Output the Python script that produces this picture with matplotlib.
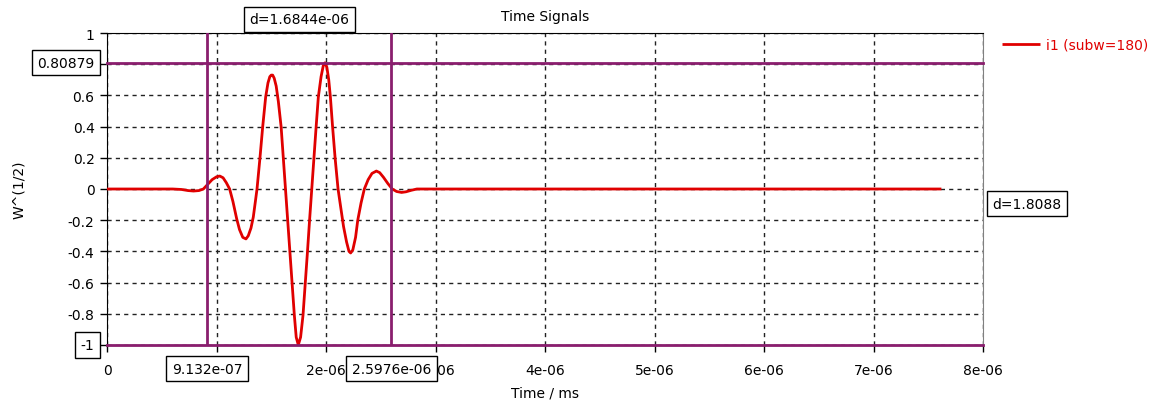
import matplotlib
matplotlib.use('Agg')
import matplotlib.pyplot as plt
import matplotlib.transforms as mtransforms

# ---- data ----
time_us = [0.0, 0.60, 0.68, 0.74, 0.79, 0.84, 0.88, 0.92, 0.96, 1.00, 1.03, 1.06,
           1.09, 1.12, 1.15, 1.184, 1.21, 1.24, 1.269, 1.29, 1.315, 1.336, 1.355,
           1.37, 1.397, 1.422, 1.449, 1.47, 1.487, 1.50, 1.513, 1.527, 1.545, 1.565,
           1.59, 1.61, 1.63, 1.65, 1.671, 1.691, 1.711, 1.728, 1.747, 1.768, 1.79,
           1.81, 1.83, 1.85, 1.87, 1.89, 1.91, 1.93, 1.955, 1.975, 1.991, 2.008,
           2.025, 2.04, 2.06, 2.083, 2.11, 2.135, 2.16, 2.188, 2.21, 2.225, 2.245,
           2.27, 2.29, 2.32, 2.35, 2.385, 2.42, 2.46, 2.49, 2.525, 2.565, 2.605,
           2.645, 2.69, 2.73, 2.78, 2.83, 7.62]
signal = [0.0, 0.0, -0.003, -0.010, -0.013, -0.010, 0.0, 0.030, 0.060, 0.078, 0.083, 0.072,
          0.040, 0.0, -0.08, -0.19, -0.26, -0.31, -0.32, -0.30, -0.25, -0.18, -0.08,
          0.0, 0.20, 0.40, 0.59, 0.68, 0.72, 0.73, 0.73, 0.71, 0.66, 0.56,
          0.40, 0.20, 0.0, -0.20, -0.41, -0.61, -0.81, -0.95, -1.0, -0.95, -0.81,
          -0.61, -0.41, -0.20, 0.0, 0.20, 0.40, 0.59, 0.72, 0.79, 0.809, 0.78,
          0.70, 0.59, 0.40, 0.20, 0.0, -0.12, -0.24, -0.34, -0.40, -0.41, -0.39,
          -0.31, -0.20, -0.09, 0.0, 0.06, 0.10, 0.115, 0.105, 0.075, 0.035, 0.0,
          -0.016, -0.022, -0.018, -0.008, 0.0, 0.0]
series_label = 'i1 (subw=180)'

cursor_x = [9.132e-07, 2.5976e-06]
cursor_x_labels = ['9.132e-07', '2.5976e-06']
cursor_y = [0.80879, -1.0]
cursor_y_labels = ['0.80879', '-1']
delta_x_label = 'd=1.6844e-06'
delta_y_label = 'd=1.8088'

x_ticks = [0, 1e-6, 2e-6, 3e-6, 4e-6, 5e-6, 6e-6, 7e-6, 8e-6]
x_tick_labels = ['0', '1e-06', '2e-06', '3e-06', '4e-06', '5e-06', '6e-06', '7e-06', '8e-06']
y_ticks = [-1, -0.8, -0.6, -0.4, -0.2, 0, 0.2, 0.4, 0.6, 0.8, 1]
y_tick_labels = ['-1', '-0.8', '-0.6', '-0.4', '-0.2', '0', '0.2', '0.4', '0.6', '0.8', '1']

# ---- style ----
plt.rcParams['font.family'] = ['DejaVu Sans']
plt.rcParams['font.size'] = 10
PURPLE = '#8a1e6e'
RED = '#e00000'

fig = plt.figure(figsize=(11.54, 4.06), dpi=100)
ax = fig.add_axes([107 / 1154, 1 - 346 / 406, 876 / 1154, 312 / 406])

t = [v * 1e-6 for v in time_us]
ax.plot(t, signal, color=RED, lw=2, label=series_label, zorder=4,
        solid_joinstyle='round', solid_capstyle='butt')

for cx in cursor_x:
    ax.axvline(cx, color=PURPLE, lw=2, zorder=5)
for cy in cursor_y:
    ax.axhline(cy, color=PURPLE, lw=2, zorder=5, clip_on=False)

ax.set_xlim(0, 8e-6)
ax.set_ylim(-1, 1)
ax.set_xticks(x_ticks)
ax.set_xticklabels(x_tick_labels)
ax.set_yticks(y_ticks)
ax.set_yticklabels(y_tick_labels)
ax.tick_params(direction='out', length=5, width=1, labelsize=10)
ax.tick_params(axis='x', pad=8)
ax.tick_params(axis='y', pad=4)
ax.grid(True, color='#222222', linestyle=(0, (3, 3)), linewidth=1)
ax.set_axisbelow(True)

for side in ['left', 'top', 'bottom']:
    ax.spines[side].set_color('black')
ax.spines['right'].set_color('#808080')

ax.set_title('Time Signals', fontsize=10, pad=9)
ax.set_xlabel('Time / ms', fontsize=10, labelpad=6)
ax.set_ylabel('W^(1/2)', fontsize=10, labelpad=30)

box = dict(boxstyle='square,pad=0.4', fc='white', ec='black', lw=1)

# cursor value boxes on left (y cursors)
ty = mtransforms.blended_transform_factory(ax.transAxes, ax.transData)
for cy, lab in zip(cursor_y, cursor_y_labels):
    ax.annotate(lab, xy=(0, cy), xycoords=ty, xytext=(-9, 0), textcoords='offset points',
                ha='right', va='center', bbox=box, zorder=10, annotation_clip=False)

# cursor value boxes at bottom (x cursors)
tx = mtransforms.blended_transform_factory(ax.transData, ax.transAxes)
for cx, lab in zip(cursor_x, cursor_x_labels):
    ax.annotate(lab, xy=(cx, 0), xycoords=tx, xytext=(0, -12), textcoords='offset points',
                ha='center', va='top', bbox=box, zorder=10, annotation_clip=False)

# delta boxes
ax.annotate(delta_x_label, xy=(sum(cursor_x) / 2, 1), xycoords=tx, xytext=(0, 5),
            textcoords='offset points', ha='center', va='bottom', bbox=box, zorder=10,
            annotation_clip=False)
ax.annotate(delta_y_label, xy=(1, sum(cursor_y) / 2), xycoords=ty, xytext=(7, 0),
            textcoords='offset points', ha='left', va='center', bbox=box, zorder=10,
            annotation_clip=False)

leg = ax.legend(loc='upper left', bbox_to_anchor=(1.0217, 0.985), frameon=False,
                borderpad=0, borderaxespad=0, handlelength=2.7, handletextpad=0.5,
                labelcolor='linecolor', fontsize=10)

fig.savefig('out.png', dpi=100)
